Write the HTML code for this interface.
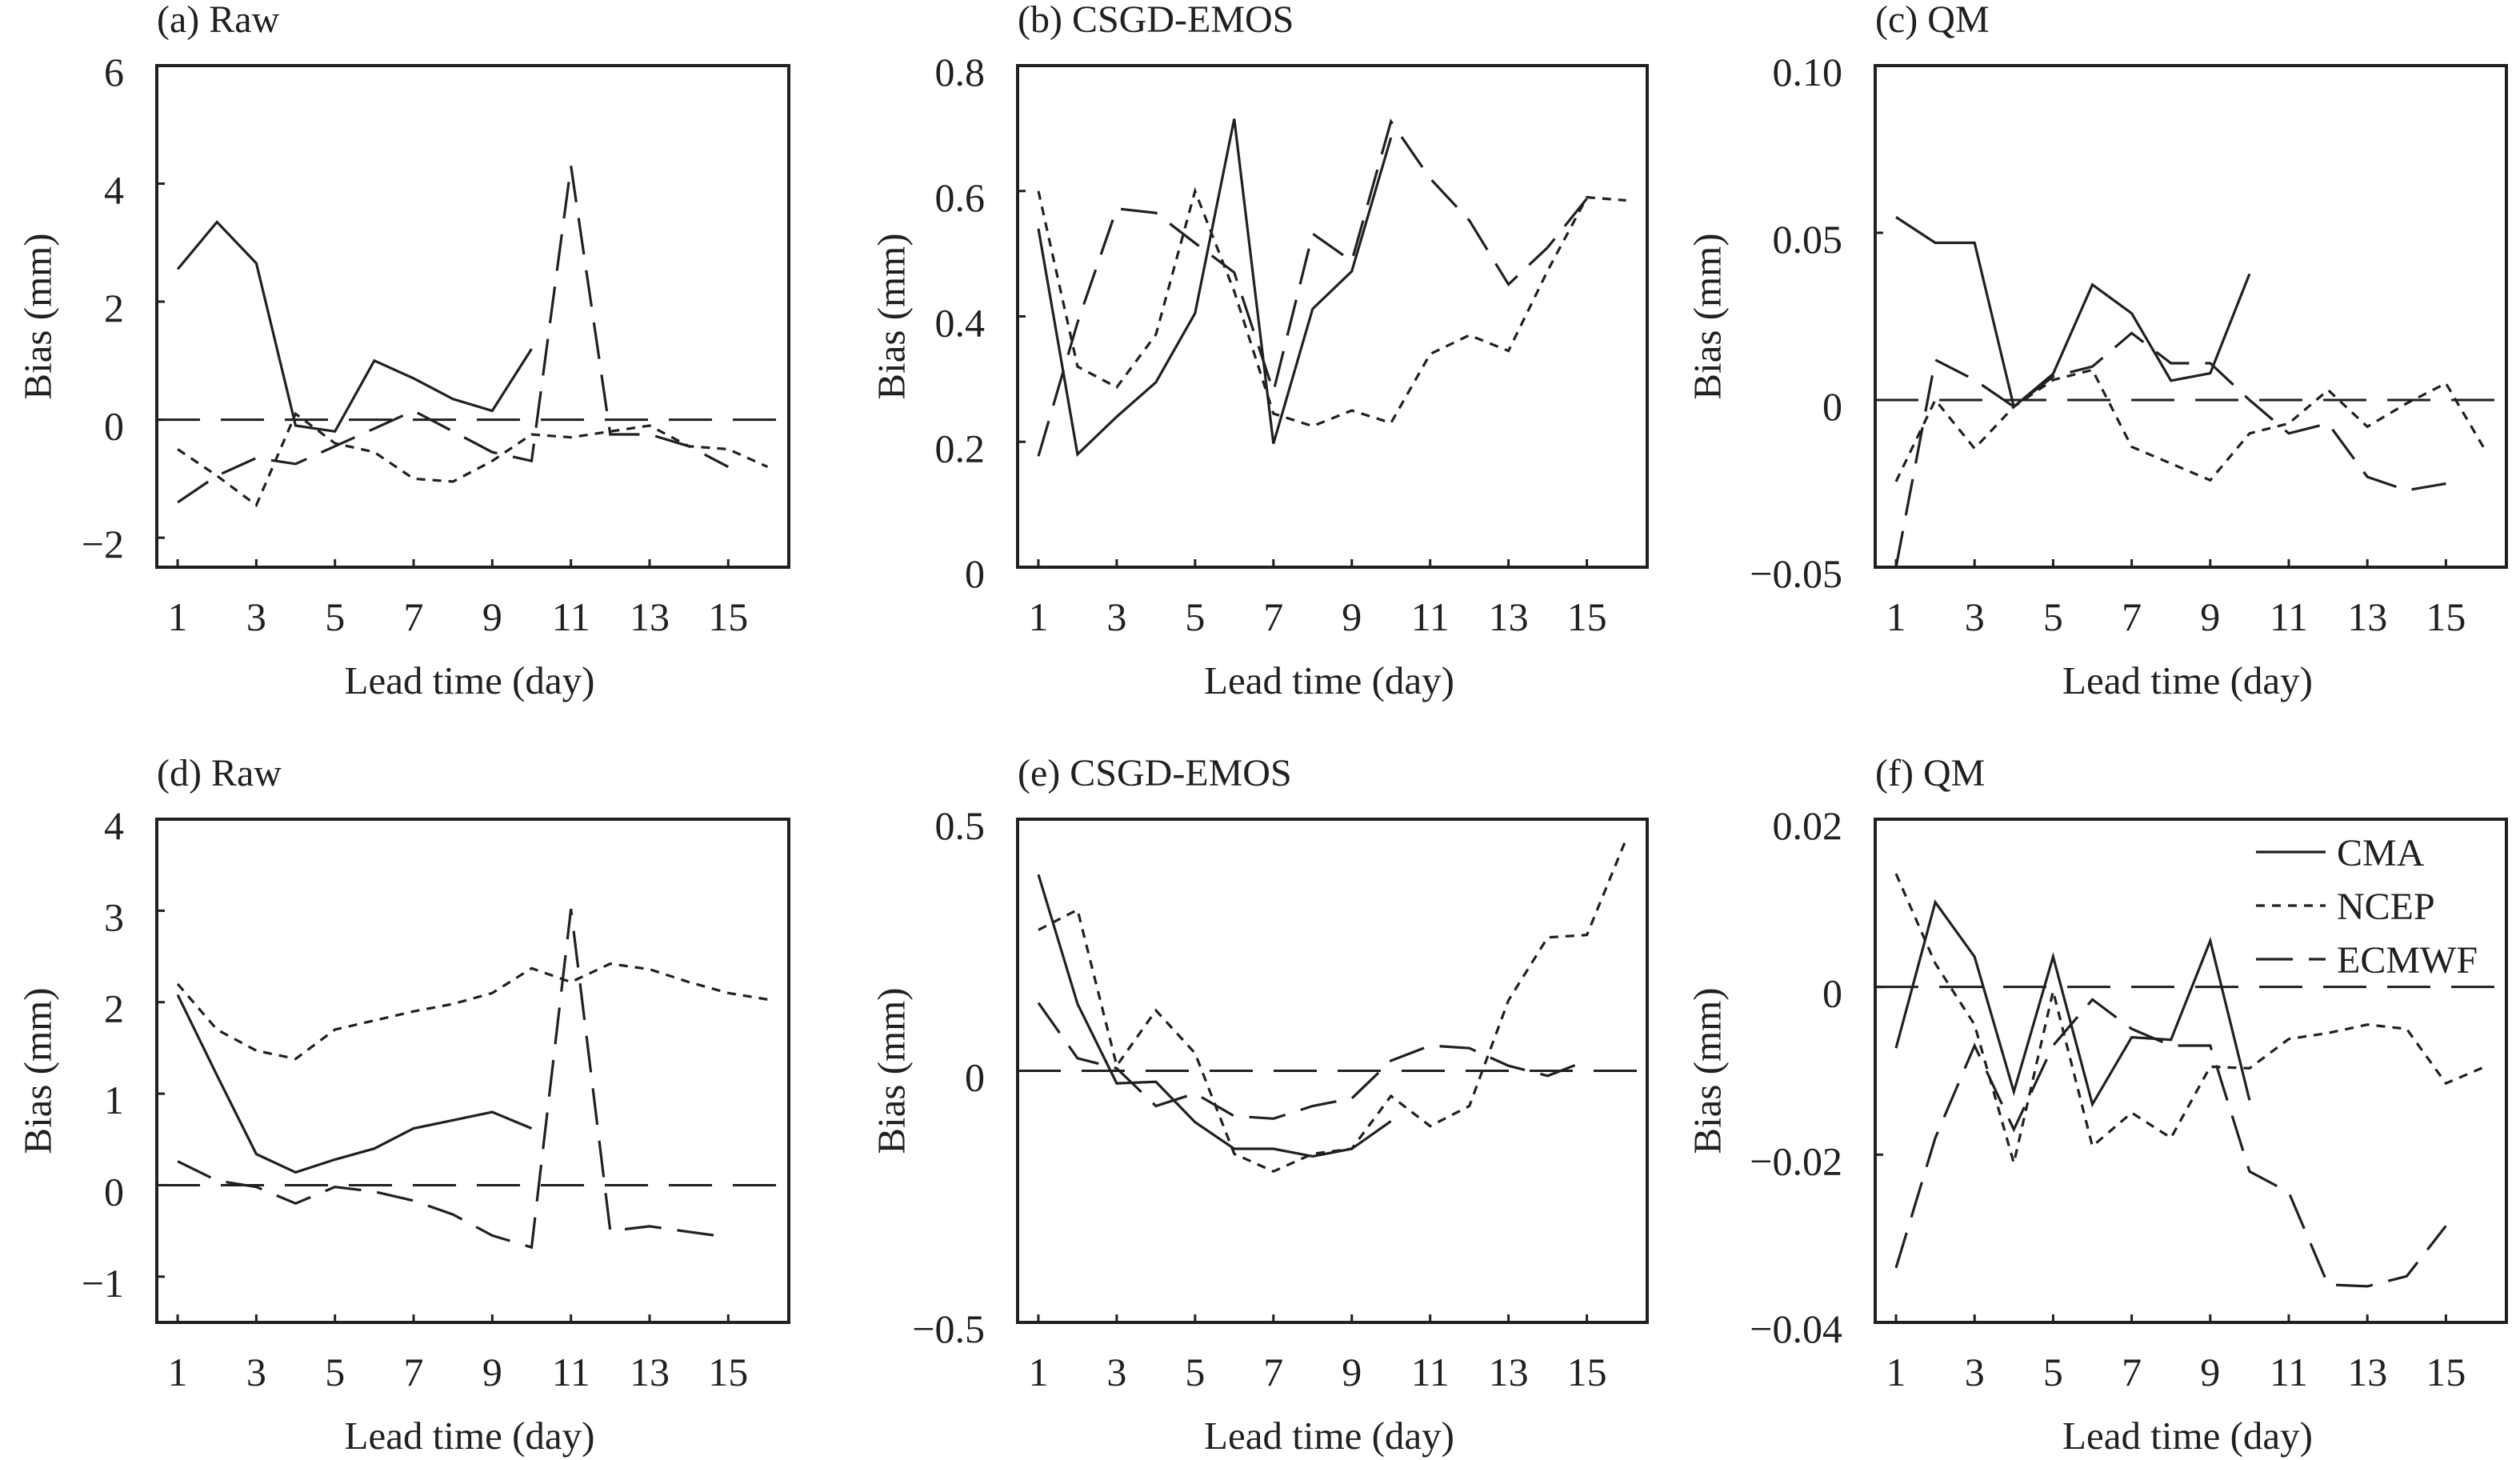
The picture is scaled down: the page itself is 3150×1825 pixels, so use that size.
<!DOCTYPE html>
<html><head><meta charset="utf-8"><style>
html,body{margin:0;padding:0;background:#fff;}
svg{display:block;font-family:"Liberation Serif",serif;}
</style></head><body>
<svg id="fig" width="3150" height="1825" viewBox="0 0 3150 1825" xmlns="http://www.w3.org/2000/svg"></svg>
<script>
const days = [1,2,3,4,5,6,7,8,9,10,11,12,13,14,15,16];
const xTickLabels = ["1","3","5","7","9","11","13","15"];
const seriesNames = ["CMA","NCEP","ECMWF"];
// panel (a) Raw
const aCMA = [2.55,3.35,2.65,-0.1,-0.2,1.0,0.7,0.35,0.15,1.2];
const aNCEP = [-0.5,-0.95,-1.45,0.1,-0.4,-0.55,-1.0,-1.05,-0.7,-0.25,-0.3,-0.2,-0.1,-0.45,-0.5,-0.8];
const aECMWF = [-1.4,-0.95,-0.65,-0.75,-0.45,-0.15,0.15,-0.2,-0.55,-0.7,4.3,-0.25,-0.25,-0.45,-0.8];
const aTicks = [-2,0,2,4,6];
const aTickLabels = ["\u22122","0","2","4","6"];
// panel (b) CSGD-EMOS
const bCMA = [0.54,0.18,0.24,0.295,0.405,0.715,0.197,0.412,0.472,0.685];
const bNCEP = [0.60,0.32,0.287,0.371,0.60,0.44,0.245,0.225,0.25,0.23,0.34,0.37,0.345,0.473,0.59,0.585];
const bECMWF = [0.177,0.39,0.572,0.565,0.517,0.47,0.28,0.532,0.488,0.711,0.62,0.553,0.451,0.51,0.588];
const bTicks = [0,0.2,0.4,0.6,0.8];
const bTickLabels = ["0","0.2","0.4","0.6","0.8"];
// panel (c) QM
const cCMA = [0.0547,0.047,0.047,-0.002,0.0078,0.0345,0.0259,0.0058,0.008,0.0377];
const cNCEP = [-0.0244,0.0,-0.0145,-0.002,0.006,0.009,-0.014,-0.019,-0.024,-0.01,-0.007,0.003,-0.008,-0.001,0.005,-0.015];
const cECMWF = [-0.05,0.012,0.006,-0.002,0.007,0.01,0.02,0.011,0.011,0.0,-0.01,-0.007,-0.023,-0.027,-0.025];
const cTicks = [-0.05,0,0.05,0.10];
const cTickLabels = ["\u22120.05","0","0.05","0.10"];
// panel (d) Raw
const dCMA = [2.08,1.2,0.34,0.14,0.28,0.4,0.62,0.71,0.8,0.62];
const dNCEP = [2.2,1.7,1.47,1.38,1.7,1.8,1.9,1.98,2.1,2.37,2.22,2.42,2.36,2.22,2.1,2.03];
const dECMWF = [0.26,0.05,-0.02,-0.2,-0.02,-0.07,-0.17,-0.32,-0.55,-0.68,3.02,-0.5,-0.45,-0.51,-0.57];
const dTicks = [-1,0,1,2,3,4];
const dTickLabels = ["\u22121","0","1","2","3","4"];
// panel (e) CSGD-EMOS
const eCMA = [0.39,0.133,-0.025,-0.022,-0.102,-0.155,-0.155,-0.17,-0.155,-0.1];
const eNCEP = [0.28,0.32,0.01,0.12,0.035,-0.165,-0.2,-0.165,-0.155,-0.05,-0.11,-0.07,0.14,0.265,0.27,0.46];
const eECMWF = [0.135,0.025,0.005,-0.07,-0.045,-0.09,-0.095,-0.07,-0.055,0.02,0.05,0.045,0.01,-0.01,0.02];
const eTicks = [-0.5,0,0.5];
const eTickLabels = ["\u22120.5","0","0.5"];
// panel (f) QM
const fCMA = [-0.0073,0.0101,0.0036,-0.0125,0.0036,-0.014,-0.006,-0.0063,0.0055,-0.0135];
const fNCEP = [0.0135,0.0028,-0.0045,-0.021,-0.0005,-0.019,-0.015,-0.018,-0.0095,-0.0097,-0.0062,-0.0055,-0.0045,-0.005,-0.0115,-0.0095];
const fECMWF = [-0.0335,-0.018,-0.007,-0.017,-0.007,-0.0015,-0.005,-0.007,-0.007,-0.022,-0.0245,-0.0355,-0.0357,-0.0345,-0.0285];
const fTicks = [-0.04,-0.02,0,0.02];
const fTickLabels = ["\u22120.04","\u22120.02","0","0.02"];

const NS = "http://www.w3.org/2000/svg";
const svg = document.getElementById('fig');
function mk(tag, attrs, parent){
  const e = document.createElementNS(NS, tag);
  for (const k in attrs) e.setAttribute(k, attrs[k]);
  (parent||svg).appendChild(e);
  return e;
}
const styles = {CMA:"none", NCEP:"11,9", ECMWF:"46,20"};
const panels = [
  {id:"a", title:"(a) Raw", L:196, R:986, T:82, B:709, ymin:-2.5, ymax:6, ticks:aTicks, labels:aTickLabels, s:[aCMA,aNCEP,aECMWF], ylx:47},
  {id:"b", title:"(b) CSGD-EMOS", L:1272, R:2059, T:82, B:709, ymin:0, ymax:0.8, ticks:bTicks, labels:bTickLabels, s:[bCMA,bNCEP,bECMWF], ylx:1114},
  {id:"c", title:"(c) QM", L:2344, R:3133, T:82, B:709, ymin:-0.05, ymax:0.10, ticks:cTicks, labels:cTickLabels, s:[cCMA,cNCEP,cECMWF], ylx:2134},
  {id:"d", title:"(d) Raw", L:196, R:986, T:1024, B:1653, ymin:-1.5, ymax:4, ticks:dTicks, labels:dTickLabels, s:[dCMA,dNCEP,dECMWF], ylx:47},
  {id:"e", title:"(e) CSGD-EMOS", L:1272, R:2059, T:1024, B:1653, ymin:-0.5, ymax:0.5, ticks:eTicks, labels:eTickLabels, s:[eCMA,eNCEP,eECMWF], ylx:1114},
  {id:"f", title:"(f) QM", L:2344, R:3133, T:1024, B:1653, ymin:-0.04, ymax:0.02, ticks:fTicks, labels:fTickLabels, s:[fCMA,fNCEP,fECMWF], ylx:2134}
];
const XMIN = 0.47, XMAX = 16.54;
panels.forEach(p => {
  const g = mk('g', {});
  
  
  const xs = d => p.L + (d - XMIN) / (XMAX - XMIN) * (p.R - p.L);
  const ys = v => p.B - (v - p.ymin) / (p.ymax - p.ymin) * (p.B - p.T);
  const t = mk('text', {x:p.L, y:p.T-42, 'font-size':48, fill:'#231f20'}, g);
  t.textContent = p.title;
  
  
  if (p.ymin < 0 && p.ymax > 0) {
    const z = mk('line', {x1:p.L, x2:p.R, y1:ys(0), y2:ys(0), stroke:'#231f20', 'stroke-width':3, 'stroke-dasharray':'54,26'}, g);
    
    
  }
  p.s.forEach((arr, i) => {
    const pts = arr.map((v, k) => xs(days[k]).toFixed(1) + ',' + ys(v).toFixed(1)).join(' ');
    const pl = mk('polyline', {points:pts, fill:'none', stroke:'#231f20', 'stroke-width':3.2, 'stroke-linejoin':'miter'}, g);
    if (styles[seriesNames[i]] !== "none") pl.setAttribute('stroke-dasharray', styles[seriesNames[i]]);
    
    
  });
  const fr = mk('rect', {x:p.L, y:p.T, width:p.R-p.L, height:p.B-p.T, fill:'none', stroke:'#231f20', 'stroke-width':4}, g);
  
  
  xTickLabels.forEach(lb => {
    const d = +lb, x = xs(d);
    mk('line', {x1:x, x2:x, y1:p.B, y2:p.B-10, stroke:'#231f20', 'stroke-width':3}, g);
    const tx = mk('text', {x:x, y:p.B+79, 'font-size':50, 'text-anchor':'middle', fill:'#231f20'}, g);
    tx.textContent = lb;
    
    
  });
  p.ticks.forEach((v, i) => {
    const y = ys(v);
    mk('line', {x1:p.L, x2:p.L+10, y1:y, y2:y, stroke:'#231f20', 'stroke-width':3}, g);
    const ty = mk('text', {x:p.L-41, y:y+25, 'font-size':50, 'text-anchor':'end', fill:'#231f20'}, g);
    ty.textContent = p.labels[i];
    
    
  });
  const xl = mk('text', {x:(p.L+p.R)/2 - 4, y:p.B+158, 'font-size':49, 'text-anchor':'middle', fill:'#231f20'}, g);
  xl.textContent = 'Lead time (day)';
  
  
  const cy = (p.T+p.B)/2;
  const yl = mk('text', {x:p.ylx, y:cy, 'font-size':49, 'text-anchor':'middle', 'dominant-baseline':'central', fill:'#231f20', transform:'rotate(-90 '+p.ylx+' '+cy+')'}, g);
  yl.textContent = 'Bias (mm)';
  
  
});
const lg = mk('g', {});


const legY = [1065, 1132, 1199];
seriesNames.forEach((n, i) => {
  const ln = mk('line', {x1:2820, x2:2907, y1:legY[i], y2:legY[i], stroke:'#231f20', 'stroke-width':3.2}, lg);
  if (styles[n] !== "none") ln.setAttribute('stroke-dasharray', styles[n]);
  
  
  const tx = mk('text', {x:2921, y:legY[i]+17, 'font-size':48, fill:'#231f20'}, lg);
  tx.textContent = n;
  
  
});
</script>
</body></html>
